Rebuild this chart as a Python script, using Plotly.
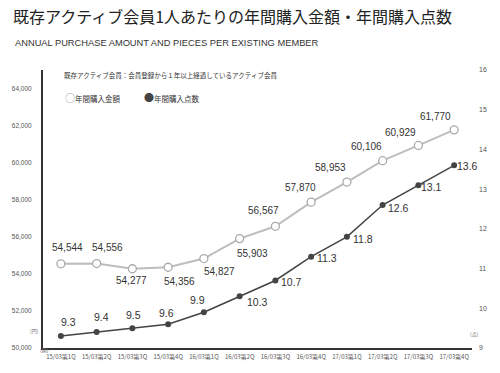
import plotly.graph_objects as go

categories = ["15/03第1Q", "15/03第2Q", "15/03第3Q", "15/03第4Q",
              "16/03第1Q", "16/03第2Q", "16/03第3Q", "16/03第4Q",
              "17/03第1Q", "17/03第2Q", "17/03第3Q", "17/03第4Q"]
amount = [54544, 54556, 54277, 54356, 54827, 55903, 56567, 57870, 58953, 60106, 60929, 61770]
pieces = [9.3, 9.4, 9.5, 9.6, 9.9, 10.3, 10.7, 11.3, 11.8, 12.6, 13.1, 13.6]
left_ticks = [50000, 52000, 54000, 56000, 58000, 60000, 62000, 64000]
right_ticks = [9, 10, 11, 12, 13, 14, 15, 16]

# label offsets (pixels) relative to each marker
amount_offsets = [(7, 16), (11, 16), (-1, -12), (11, -14), (16, -13), (13, -15),
                  (-12, 16), (-11, 15), (-16, 15), (-16, 14), (-18, 13), (-19, 13)]
pieces_offsets = [(8, 14), (5, 15), (1, 13), (-2, 11), (-6, 12), (18, -6),
                  (16, -2), (16, -1), (16, -2), (16, -3), (13, -2), (13, -1)]

FONT = "Liberation Sans, Arial, Noto Sans CJK JP, sans-serif"
JFONT = "Noto Sans CJK JP, Liberation Sans, sans-serif"

W, H = 500, 373
L, R, T, B = 43, 28, 70, 19
PW, PH = W - L - R, H - T - B


def px(x):
    return (x - L) / PW


def py(y):
    return (H - B - y) / PH


fig = go.Figure()
fig.add_trace(go.Scatter(
    x=categories, y=amount, mode="lines+markers", yaxis="y", showlegend=False,
    line=dict(color="#bdbdbd", width=2),
    marker=dict(size=8, color="white", line=dict(color="#aaaaaa", width=1.3)),
))
fig.add_trace(go.Scatter(
    x=categories, y=pieces, mode="lines+markers", yaxis="y2", showlegend=False,
    line=dict(color="#444444", width=1.5),
    marker=dict(size=6, color="#444444"),
))

annotations = []
for c, v, (dx, dy) in zip(categories, amount, amount_offsets):
    annotations.append(dict(x=c, y=v, xref="x", yref="y", text=f"{v:,}", showarrow=False,
                            xshift=dx, yshift=dy, font=dict(family=FONT, size=10, color="#333333")))
for c, v, (dx, dy) in zip(categories, pieces, pieces_offsets):
    annotations.append(dict(x=c, y=v, xref="x", yref="y2", text=f"{v:.1f}", showarrow=False,
                            xshift=dx, yshift=dy, font=dict(family=FONT, size=10.5, color="#333333")))

annotations += [
    dict(text="既存アクティブ会員1人あたりの年間購入金額・年間購入点数", x=px(11), y=py(15),
         xref="paper", yref="paper", xanchor="left", yanchor="middle", showarrow=False,
         font=dict(family=JFONT, size=16, color="#222222")),
    dict(text="ANNUAL PURCHASE AMOUNT AND PIECES PER EXISTING MEMBER", x=px(13), y=py(42),
         xref="paper", yref="paper", xanchor="left", yanchor="middle", showarrow=False,
         font=dict(family=FONT, size=9.3, color="#333333")),
    dict(text="既存アクティブ会員：会員登録から１年以上経過しているアクティブ会員", x=px(62), y=py(75),
         xref="paper", yref="paper", xanchor="left", yanchor="middle", showarrow=False,
         font=dict(family=JFONT, size=6.5, color="#333333")),
    dict(text="<span style='color:#999999;font-size:10px'>○</span>年間購入金額", x=px(63), y=py(98),
         xref="paper", yref="paper", xanchor="left", yanchor="middle", showarrow=False,
         font=dict(family=JFONT, size=7.5, color="#333333")),
    dict(text="<span style='color:#444444;font-size:10px'>●</span>年間購入点数", x=px(142), y=py(98),
         xref="paper", yref="paper", xanchor="left", yanchor="middle", showarrow=False,
         font=dict(family=JFONT, size=7.5, color="#333333")),
    dict(text="(円)", x=px(28), y=py(343), xref="paper", yref="paper", showarrow=False,
         font=dict(family=JFONT, size=5, color="#666666")),
    dict(text="(期)", x=px(38), y=py(362), xref="paper", yref="paper", showarrow=False,
         font=dict(family=JFONT, size=5, color="#666666")),
    dict(text="(点)", x=px(481), y=py(346), xref="paper", yref="paper", showarrow=False,
         font=dict(family=JFONT, size=5, color="#666666")),
]

fig.update_layout(
    width=W, height=H,
    margin=dict(l=L, r=R, t=T, b=B, pad=0),
    paper_bgcolor="white", plot_bgcolor="white",
    showlegend=False,
    xaxis=dict(type="category", range=[-0.5, 11.5], showgrid=False, zeroline=False,
               showline=True, linecolor="#333333", linewidth=2, ticks="",
               tickfont=dict(family=JFONT, size=6, color="#555555"), ticklabelstandoff=2),
    yaxis=dict(range=[50000, 65000], tickvals=left_ticks, tickformat=",d",
               showgrid=False, zeroline=False, showline=True, linecolor="#333333", linewidth=2,
               ticks="", tickfont=dict(family=FONT, size=6.5, color="#555555"), ticklabelstandoff=8),
    yaxis2=dict(range=[9, 16], tickvals=right_ticks, overlaying="y", side="right",
                showgrid=False, zeroline=False, showline=False, ticks="",
                tickfont=dict(family=FONT, size=7, color="#555555"), ticklabelstandoff=6),
    annotations=annotations,
)

fig.write_html("out.html", config={"displayModeBar": False},
               post_script="document.body.style.margin='0';document.body.style.overflow='hidden';")
